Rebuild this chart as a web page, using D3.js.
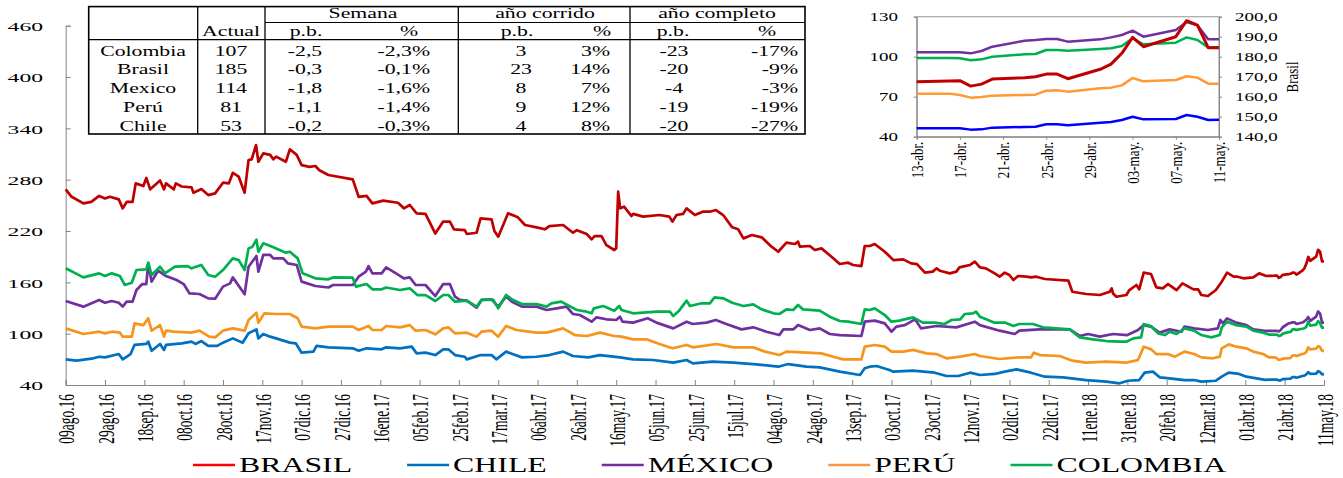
<!DOCTYPE html>
<html>
<head>
<meta charset="utf-8">
<script src="https://cdn.jsdelivr.net/npm/d3@7"></script>
<style>
  body { margin: 0; background: #fff; }
  svg { display: block; }
</style>
</head>
<body>
<svg id="drawing_region"></svg>
<script>
// main series: [days since 09ago.16, value]
const brasil = [[0,268.7],[3,260],[9,252.3],[13,254],[17,261],[20,258],[22.5,260],[27,257],[29,246.5],[31,254],[34,254],[35.6,275.7],[39.5,272.6],[41,282],[43,268.7],[48,279],[50,268.7],[51,275.7],[55,268.7],[56,275.7],[59,272],[64,271],[65,264.8],[69,269],[72.5,262],[76,264],[80,276.5],[83,275.7],[85,288],[88,283.5],[91,264.8],[93,303],[94.6,303.8],[96.8,320.5],[98,301],[100.5,310.8],[104,309],[105.6,303.8],[107,307],[112,301],[114,315.5],[117.5,309],[120,297],[124,295],[127,296],[129,291],[133.6,285.5],[146,280.4],[149,260],[153,261],[156,252.3],[161.5,255.5],[169,253],[172,246.5],[175,250.4],[178.5,240.7],[183,240],[188,217],[192,231],[195.4,231],[197.5,222],[203,221],[204,216.5],[209,218],[211,234.8],[216.6,233.6],[218,220.4],[220,213.4],[225,240.7],[230,236],[233.6,227],[239.5,224.3],[243.7,222],[246,225.8],[253,227],[258,218],[260,221],[265,216.5],[267.5,210.3],[269,214],[272.5,214],[275,203.6],[279,197.8],[280,199.7],[281,266],[282,246.5],[284,248.4],[287.8,237.5],[288.6,240],[293.7,236.8],[302,238.7],[307,236.8],[308.6,231],[310.7,238.7],[314,240],[315.8,246.5],[320,238.7],[324,242.6],[327.6,242.6],[330.7,244.5],[334.4,238.7],[339,224.3],[342,222],[344.7,211.4],[349,215.3],[354,212.6],[359,201.7],[362.4,195.8],[366.6,206.4],[370.8,204.8],[372.5,207.5],[373.4,201.7],[378.5,202.5],[381,197.8],[384.4,199.7],[389.5,190],[393.7,181.4],[398,183],[400.5,180.3],[404.7,179],[406.4,202.5],[409,202.5],[411.5,204.8],[416.6,195.8],[421,186],[426,186.9],[430,182.2],[433,181.4],[437,171.3],[441,172.5],[443,176.4],[444.6,173.6],[449.7,170.5],[453,172.5],[454.6,177.5],[457.3,179],[460,180.3],[462.4,184.2],[465,177.5],[468,176.4],[472.5,170.5],[475,166.6],[477.6,171.3],[480,168.6],[482,162.7],[484.4,167.4],[488.6,166.6],[491,165.8],[493.7,166.6],[498,163.9],[510,161.9],[512,149],[519,146.4],[526,145.2],[531,149],[532,153],[532.7,147],[534.4,143.2],[539.5,145.2],[541,151],[544.6,156.9],[546,151.8],[548.3,171.3],[552,169.8],[554.7,154.2],[558,153],[560.7,158],[565,151],[568,158.8],[573.6,151.8],[576,151.8],[577.6,145.2],[581,144],[585,151],[588,160.8],[590.7,171.3],[594,166.6],[596,166.6],[599,164.7],[604,165.8],[607,170.5],[610.7,167.4]];

const chile = [[0,70],[5.6,68.4],[14,71.2],[17,73],[20,72.3],[27,76.2],[29,70],[33,76.2],[35,86.8],[41,88],[42,90.7],[43.7,80],[48,88],[50,81],[51,86.8],[59,88.7],[64,90.7],[66,88],[69,91.4],[72.5,85.7],[77,85.7],[80,89.5],[85,94.5],[90,89.5],[93,100.4],[97,105],[98,94.5],[100.5,99.6],[104,96.5],[107,94.5],[114,89.5],[117,88.7],[120,77.8],[126,79],[127.6,85.7],[133.6,84],[146,82.9],[149,80.1],[153,82.9],[160.7,81.7],[163,84],[170,82.9],[176,84.8],[178.5,77],[183,77.8],[188,75],[192,81.7],[194.6,81.7],[198,75],[203,73],[204,70],[211,75],[216.6,75],[219,70],[224,79],[232,72.3],[239.5,73],[246,75],[253,79],[258,73.9],[265.8,72.3],[271.7,75],[282,72.3],[288.6,70],[298.8,69.2],[309,66.1],[315.8,69.2],[319,65.3],[329,67.3],[339.6,66.1],[349.7,64.5],[362.4,61.4],[367.5,64.5],[376.8,61.4],[383.5,60.6],[393.7,55.6],[404,51.7],[406.4,59.5],[409,61.4],[412.4,62.2],[419,57.5],[421,55.6],[431,56.8],[442,54.4],[448,50.5],[454,50.5],[460,54.4],[465,51.7],[472.5,52.9],[477.6,55.6],[483.6,58.3],[491,54.4],[498,49.7],[507.3,49],[519,45.8],[529.3,43.9],[536,42],[540.3,45],[546,45.8],[548.8,54.4],[553,55.6],[556.4,49],[561.5,47.8],[569,45.8],[574,45.8],[577.6,43.9],[585,45],[588,49.7],[591.5,54.4],[596.8,52.9],[600.5,49.7],[610,46]];

const mexico = [[0,138.2],[9,131.6],[17,139.4],[20,136.2],[23.4,138.2],[27,136.2],[29,131.6],[31,137.4],[34,137.4],[36,151],[39,158],[41,158],[42,182.2],[43.7,160.8],[47,173.6],[51,167.4],[56.4,162.7],[60,158],[63,147],[68,146.4],[72.5,141.3],[76,140.9],[80,155],[83.6,158.8],[85,165.8],[91,146],[93,178.3],[97,190.8],[98,172.5],[100.5,192],[104,192],[105.6,188],[110.7,188],[113,182.2],[117.5,180.3],[120,160.8],[127,155.7],[133.6,154],[136,156.9],[146,156.9],[149,166.6],[152.7,172.5],[154,179],[156,170.5],[160.7,170.5],[163,177.5],[168,170.5],[172,164.7],[175,165.8],[178,156.9],[183,156.9],[188,144],[192,158],[195.4,158],[198,143.2],[200.5,139.4],[204,138.6],[209,130.4],[211.5,139.4],[216.6,140],[220,131.6],[224,143.2],[227,137.4],[232,131.6],[239.5,131.6],[244.6,127.7],[249.7,129.6],[254.7,131.6],[258,123],[261.5,121.8],[267.5,114],[270,119.1],[275,116.8],[280,116],[281.9,119.9],[283.2,114],[288.6,112.9],[296,118],[300.5,112.9],[309,106.2],[315.8,114],[319,111.3],[325.9,112.9],[330.7,116],[336,111.3],[343.7,105],[349.7,107.4],[356.4,102.3],[363,98.4],[365,105],[370,105],[372.5,110],[378.5,104.3],[383.5,106.2],[388.6,99.6],[393.7,98.4],[404.7,97.3],[406.4,114],[411.5,115.2],[416.6,112],[420,102.3],[422.5,108.2],[426.8,110],[432,116.8],[435,106.2],[442.8,109],[453,107.4],[462.4,114],[465,110],[475,103.5],[482.7,99.6],[485,103.5],[495.4,105],[510.7,105],[515.8,97.3],[520,99.6],[526,96.5],[532.7,99.6],[540,98.4],[545.4,104.3],[548.3,110],[552,108.2],[556.4,101.2],[561.5,105],[567.5,102.3],[569,108.2],[574,106.2],[581,104.3],[586,106.2],[587.3,116],[588.6,112],[590.7,117.9],[595.4,112.9],[600.5,110],[604,105],[609,103.5]];

const peru = [[0,106.2],[9,99.6],[17,102.3],[20,100.4],[23.4,102.3],[27.6,101.2],[29,96.5],[33.6,96.5],[35,112],[39.5,110],[42,118],[43.7,103.5],[48,110],[50,96.5],[51,103.5],[55,102.3],[64,101.2],[68,103.5],[73,96.5],[76,95.7],[80,103.5],[85,106.2],[91,103.5],[93,116],[97,124.5],[98,112.8],[101,123.7],[107,123],[114,123],[118,118],[120,108.2],[127,106.2],[133.6,108.2],[146,108.2],[149,104.3],[154,109],[156,104.3],[160.7,104.3],[163,109],[170,107.4],[175,110],[178,103.5],[183,104.3],[188,99.2],[192,106.2],[194.6,107.4],[198,100.4],[204,101.2],[209,96.5],[211.5,102.3],[216.6,103.5],[220,96.5],[224,109],[229.3,104.3],[239.5,101.2],[244.6,101.2],[253,106.2],[259,98.4],[265,97.3],[271.7,101.2],[279,97.3],[282.7,96.5],[288.6,93.4],[295.4,93.4],[302,87.9],[308.6,82.9],[315.8,86.8],[319,84],[331,87.9],[339.6,84],[349.7,84],[355.7,79],[363,75],[366.6,79],[377,77.8],[384.4,77],[390.4,73.1],[395.4,70],[404.7,70],[406.4,84.8],[411.5,86.8],[416.6,84.8],[420,79],[426,79],[431,81],[437.8,77],[442.8,76.2],[448,71.2],[455,73.1],[462.4,76.2],[465,73.9],[475,70.4],[485,72.3],[491,72.3],[492.4,77.8],[495.4,75],[505.6,73.9],[512,68.4],[519,66.1],[529.3,67.3],[539.5,66.1],[545.4,69.2],[548.3,84.8],[552,81.7],[554.7,76.2],[560.7,76.2],[564,73.1],[569,79],[574,76.2],[577.6,72.3],[583.6,71.2],[587,73.1],[588,82.9],[591.5,87.5],[595.4,84.8],[600.5,82.9],[604,79],[609,76.2]];

const colombia = [[0,176.4],[9,165.8],[17,170.5],[20,167.4],[23.4,170.5],[27.6,167.4],[30,156.9],[33.6,159.6],[36,174.4],[41,175.2],[42,183],[43.7,168.6],[48,178.3],[50.5,170.5],[55.6,178.3],[62,179],[64,176.4],[69,180.3],[72.5,168.6],[76,166.6],[80,174.4],[85,188],[88,186],[91,174.4],[93,199.7],[95,201.7],[97,210],[98,195.8],[100.5,205.6],[105,201.7],[112,194.7],[114,195.8],[118,188],[120.5,170.5],[127,164.7],[133.6,163.5],[136,165.8],[146,165.5],[147.6,155],[153,158],[156,151.8],[160.7,151.8],[163,154],[170,151],[175,153],[179,145],[183,145],[188,138.2],[192,145.2],[194.6,145.2],[198,137.4],[204,138.6],[209,131.6],[211.5,139.4],[217.5,139.4],[220,129.6],[224,145.2],[227,140],[232,134.7],[239.5,134.7],[244.6,131.6],[247,135.5],[252,137.4],[260,127.7],[265,125.7],[267.5,123.8],[268.6,129.6],[273.4,132.3],[279,126.9],[281.5,132.3],[282.7,127.7],[288.6,123.8],[293.7,124.5],[300.5,125.7],[307.3,125.7],[309,120.6],[312,126.9],[315.8,138.6],[317.5,132.3],[323.4,135.5],[327.6,135.5],[330,142.5],[334.4,141.3],[339,136.2],[344.7,132.3],[349.7,134.3],[354,128.4],[360,123.8],[363,123],[366.6,128.4],[370,127.7],[372.5,133.5],[375,128.4],[383.5,126.9],[388.6,119.9],[393.7,114.8],[398,114],[404.7,111.3],[406.4,128.4],[409,127.7],[411.5,129.6],[416.6,121.8],[420,114],[424,115.2],[431,119.1],[436,112.9],[442,112.9],[447,111.3],[450.5,116],[455,116.8],[457.3,123],[461.5,123.8],[463,125.7],[465,119.9],[472.5,112.9],[478,112.9],[482,109],[485,111.3],[492,111.3],[497,107.4],[510.7,105],[515.8,95.7],[522.5,93.4],[529.3,91.4],[536,90.6],[539.5,90.6],[543,94.5],[547,95.7],[548.3,111.3],[552,109],[555.6,100.4],[559,98.4],[561.5,102.3],[565,99.6],[569,106.2],[574,103.5],[577.6,98.4],[582.7,95.7],[587,98.4],[588,107.4],[590.7,114],[595.4,110],[600.5,108.2],[604,103.5],[609,101.2]];

const tickLabels = ['09ago.16','29ago.16','18sep.16','08oct.16','28oct.16','17nov.16','07dic.16','27dic.16','16ene.17','05feb.17','25feb.17','17mar.17','06abr.17','26abr.17','16may.17','05jun.17','25jun.17','15jul.17','04ago.17','24ago.17','13sep.17','03oct.17','23oct.17','12nov.17','02dic.17','22dic.17','11ene.18','31ene.18','20feb.18','12mar.18','01abr.18','21abr.18','11may.18'];
const yTicks = [40, 100, 160, 220, 280, 340, 400, 460];

// inset: last month, daily
const insetDates = ['2018-04-13','2018-04-16','2018-04-17','2018-04-18','2018-04-19','2018-04-20','2018-04-23','2018-04-24','2018-04-25','2018-04-26','2018-04-27','2018-04-30','2018-05-01','2018-05-02','2018-05-03','2018-05-04','2018-05-07','2018-05-08','2018-05-09','2018-05-10','2018-05-11'];
const insetBrasil = [167.5,167.8,168,165.3,166.3,168.8,169.5,170,171.3,171.3,169,173.7,176.3,181.7,189.7,185,190,198,195.8,184.5,184.5];
const insetMexico = [103.3,103.3,103.3,102.5,104.3,107.5,112,112.5,113.3,113.3,111.3,113,114.5,116.3,119.5,115,120,126,123.5,113,113];
const insetColombia = [99,99,98.8,97.3,98,100,101.8,102,105,105,104.5,105.8,106.3,108,113.8,109.3,110.5,114.5,112.5,107,107];
const insetPeru = [72.3,72.3,71.3,69.3,69.8,70.8,71.3,71.5,74.5,74.8,73.8,76.3,76.8,78.5,84,81.5,82.5,85.3,84.3,79.8,79.8];
const insetChile = [46.3,46.3,46.3,45.3,45.5,46.8,47.3,47.5,49.3,49.3,48.5,50.5,51,52.5,55,53,53.3,56.3,55,52.5,52.8];
const insetTickLabels = ['13-abr.','17-abr.','21-abr.','25-abr.','29-abr.','03-may.','07-may.','11-may.'];
const insetLeftTicks = [40, 70, 100, 130];
const insetRightTicks = [140, 150, 160, 170, 180, 190, 200];

// table
const tableRows = ['Colombia','Brasil','Mexico','Perú','Chile'];
const actual = ['107','185','114','81','53'];
const semanaPb = ['-2,5','-0,3','-1,8','-1,1','-0,2'];
const semanaPct = ['-2,3%','-0,1%','-1,6%','-1,4%','-0,3%'];
const corridoPb = ['3','23','8','9','4'];
const corridoPct = ['3%','14%','7%','12%','8%'];
const completoPb = ['-23','-20','-4','-19','-20'];
const completoPct = ['-17%','-9%','-3%','-19%','-27%'];

const legendNames = ['BRASIL','CHILE','MÉXICO','PERÚ','COLOMBIA'];
const lineColors = ['#C00000','#0070C0','#7030A0','#F7941D','#00B050'];
const legendColors = ['#FF0000','#0070C0','#7030A0','#F79646','#00B050'];
const insetColors = ['#C00000','#0000FF','#7030A0','#FF9933','#00B050'];

const FONT = '"Liberation Serif", "Times New Roman", serif';
const AXIS = '#868686';
const W = 1343, H = 478;

const svg = d3.select('#drawing_region').attr('width', W).attr('height', H)
    .style('font-family', FONT);

const months = {ene:0, feb:1, mar:2, abr:3, may:4, jun:5, jul:6, ago:7, sep:8, oct:9, nov:10, dic:11};
const parseTick = s => {
    const m = s.match(/^(\d+)([a-z]+)\.(\d+)$/);
    return new Date(Date.UTC(2000 + +m[3], months[m[2]], +m[1]));
};
const parseIso = d3.utcParse('%Y-%m-%d');
const tickDates = tickLabels.map(parseTick);
const start = +tickDates[0];
const toDate = d => new Date(start + d * 864e5);
const toDay = dt => (dt - start) / 864e5;

// main chart tail continues with the inset month
const insetPairs = arr => insetDates.map((d, i) => [toDay(parseIso(d)), arr[i]]);
const mainSeries = [
    brasil.concat(insetPairs(insetBrasil)),
    chile.concat(insetPairs(insetChile)),
    mexico.concat(insetPairs(insetMexico)),
    peru.concat(insetPairs(insetPeru)),
    colombia.concat(insetPairs(insetColombia))
];

// ---------- main chart ----------
const x = d3.scaleUtc().domain([tickDates[0], tickDates[tickDates.length - 1]]).range([65.7, 1324]);
const y = d3.scaleLinear().domain([40, 460]).range([385, 25.7]);
const sx = 1.75;

const styleAxis = g => {
    g.attr('font-family', FONT);
    g.select('.domain').attr('stroke', AXIS);
    g.selectAll('.tick line').attr('stroke', AXIS);
    g.selectAll('.tick text').attr('fill', '#000');
};

svg.append('g')
    .attr('transform', 'translate(65.7,0)')
    .call(d3.axisLeft(y).tickValues(yTicks).tickSize(-5))
    .call(styleAxis)
    .call(g => g.selectAll('.tick text')
        .attr('x', -22.7 / sx).attr('dy', '0.35em')
        .attr('font-size', 13.5)
        .attr('transform', `scale(${sx},1)`));

svg.append('g')
    .attr('transform', 'translate(0,385)')
    .call(d3.axisBottom(x).tickValues(tickDates).tickFormat((d, i) => tickLabels[i]).tickSize(-5))
    .call(styleAxis)
    .call(g => g.selectAll('.tick text')
        .attr('x', -9).attr('y', 0).attr('dy', '0.35em')
        .attr('text-anchor', 'end')
        .attr('font-size', 13.5)
        .attr('transform', `scale(${sx},1) rotate(-90)`));

const line = d3.line()
    .x(d => x(toDate(d[0])))
    .y(d => y(d[1]));

svg.append('g').selectAll('path')
    .data(mainSeries)
    .join('path')
    .attr('d', line)
    .attr('fill', 'none')
    .attr('stroke', (d, i) => lineColors[i])
    .attr('stroke-width', 2.7)
    .attr('stroke-linejoin', 'round');

// ---------- legend ----------
const legend = svg.append('g');
let lx = 193;
legendNames.forEach((name, i) => {
    legend.append('line')
        .attr('x1', lx).attr('x2', lx + 42)
        .attr('y1', 465).attr('y2', 465)
        .attr('stroke', legendColors[i]).attr('stroke-width', 2.5);
    const t = legend.append('text')
        .attr('transform', `translate(${lx + 46},472) scale(1.48,1)`)
        .attr('font-size', 21.5)
        .text(name);
    lx += 46 + t.node().getComputedTextLength() * 1.48 + 55;
});

// ---------- table ----------
const tbl = svg.append('g');
const T = {left: 88.7, right: 805, top: 6.6, bottom: 134};
tbl.append('rect')
    .attr('x', T.left).attr('y', T.top)
    .attr('width', T.right - T.left).attr('height', T.bottom - T.top)
    .attr('fill', '#fff').attr('stroke', '#000').attr('stroke-width', 1.6);
[197.7, 265, 458.3, 630].forEach(vx => tbl.append('line')
    .attr('x1', vx).attr('x2', vx).attr('y1', T.top).attr('y2', T.bottom)
    .attr('stroke', '#000').attr('stroke-width', 1.3));
tbl.append('line').attr('x1', 265).attr('x2', T.right).attr('y1', 22.5).attr('y2', 22.5)
    .attr('stroke', '#000').attr('stroke-width', 1.1);
tbl.append('line').attr('x1', T.left).attr('x2', T.right).attr('y1', 39.7).attr('y2', 39.7)
    .attr('stroke', '#000').attr('stroke-width', 1.3);

const tsx = 1.5;
const cell = (tx, ty, txt, anchor) => tbl.append('text')
    .attr('transform', `translate(${tx},${ty}) scale(${tsx},1)`)
    .attr('text-anchor', anchor)
    .attr('font-size', 14.5)
    .text(txt);

[['Semana', 363], ['año corrido', 545], ['año completo', 717]].forEach(h => cell(h[1], 18.2, h[0], 'middle'));
[['Actual', 231], ['p.b.', 306], ['%', 409], ['p.b.', 517], ['%', 602], ['p.b.', 673], ['%', 767]]
    .forEach(h => cell(h[1], 35.8, h[0], 'middle'));

const columns = [
    {vals: tableRows, x: 143, anchor: 'middle'},
    {vals: actual, x: 231, anchor: 'middle'},
    {vals: semanaPb, x: 305, anchor: 'middle'},
    {vals: semanaPct, x: 430, anchor: 'end'},
    {vals: corridoPb, x: 521, anchor: 'middle'},
    {vals: corridoPct, x: 610, anchor: 'end'},
    {vals: completoPb, x: 674, anchor: 'middle'},
    {vals: completoPct, x: 798, anchor: 'end'}
];
columns.forEach(c => c.vals.forEach((v, r) => cell(c.x, 55.5 + 18.8 * r, v, c.anchor)));

// ---------- inset ----------
const I = {left: 916.7, right: 1219, top: 16.7, bottom: 136.7};
const ix = d3.scaleUtc().domain([parseIso(insetDates[0]), parseIso(insetDates[insetDates.length - 1])]).range([I.left, I.right]);
const iy = d3.scaleLinear().domain([40, 130]).range([I.bottom, I.top]);
const iyR = d3.scaleLinear().domain([140, 200]).range([I.bottom, I.top]);
const isx = 1.65;

const inset = svg.append('g');
inset.append('rect')
    .attr('x', I.left).attr('y', I.top)
    .attr('width', I.right - I.left).attr('height', I.bottom - I.top)
    .attr('fill', '#fff').attr('stroke', '#A6A6A6').attr('stroke-width', 1.2);

inset.append('g')
    .attr('transform', `translate(${I.left},0)`)
    .call(d3.axisLeft(iy).tickValues(insetLeftTicks).tickSize(3))
    .call(styleAxis)
    .call(g => g.selectAll('.tick text')
        .attr('x', -18.7 / isx).attr('dy', '0.35em')
        .attr('font-size', 11.5)
        .attr('transform', `scale(${isx},1)`));

inset.append('g')
    .attr('transform', `translate(${I.right},0)`)
    .call(d3.axisRight(iyR).tickValues(insetRightTicks).tickSize(3)
        .tickFormat(d => d3.format('.1f')(d).replace('.', ',')))
    .call(styleAxis)
    .call(g => g.selectAll('.tick text')
        .attr('x', 16 / isx).attr('dy', '0.35em')
        .attr('font-size', 11.5)
        .attr('transform', `scale(${isx},1)`));

const insetTickDates = insetTickLabels.map(s => new Date(Date.UTC(2018, months[s.slice(3, 6)], +s.slice(0, 2))));
inset.append('g')
    .attr('transform', `translate(0,${I.bottom})`)
    .call(d3.axisBottom(ix).tickValues(insetTickDates).tickFormat((d, i) => insetTickLabels[i]).tickSize(3))
    .call(styleAxis)
    .call(g => g.select('.domain').attr('stroke', '#7F7F7F'))
    .call(g => g.selectAll('.tick text')
        .attr('x', -5).attr('y', 0).attr('dy', '0.35em')
        .attr('text-anchor', 'end')
        .attr('font-size', 13)
        .attr('transform', 'scale(1.3,1) rotate(-90)'));

inset.append('text')
    .attr('transform', 'translate(1298,77) scale(1.3,1) rotate(-90)')
    .attr('text-anchor', 'middle')
    .attr('font-size', 13)
    .text('Brasil');

const insetLine = (scale) => d3.line()
    .x((d, i) => ix(parseIso(insetDates[i])))
    .y(d => scale(d));

const insetSeries = [
    {vals: insetChile, color: insetColors[1]},
    {vals: insetPeru, color: insetColors[3]},
    {vals: insetColombia, color: insetColors[4]},
    {vals: insetMexico, color: insetColors[2]},
    {vals: insetBrasil, color: insetColors[0], right: true}
];
inset.append('g').selectAll('path')
    .data(insetSeries)
    .join('path')
    .attr('d', s => insetLine(s.right ? iyR : iy)(s.vals))
    .attr('fill', 'none')
    .attr('stroke', s => s.color)
    .attr('stroke-width', s => s.right ? 3 : 2.5)
    .attr('stroke-linejoin', 'round');
</script>
</body>
</html>
